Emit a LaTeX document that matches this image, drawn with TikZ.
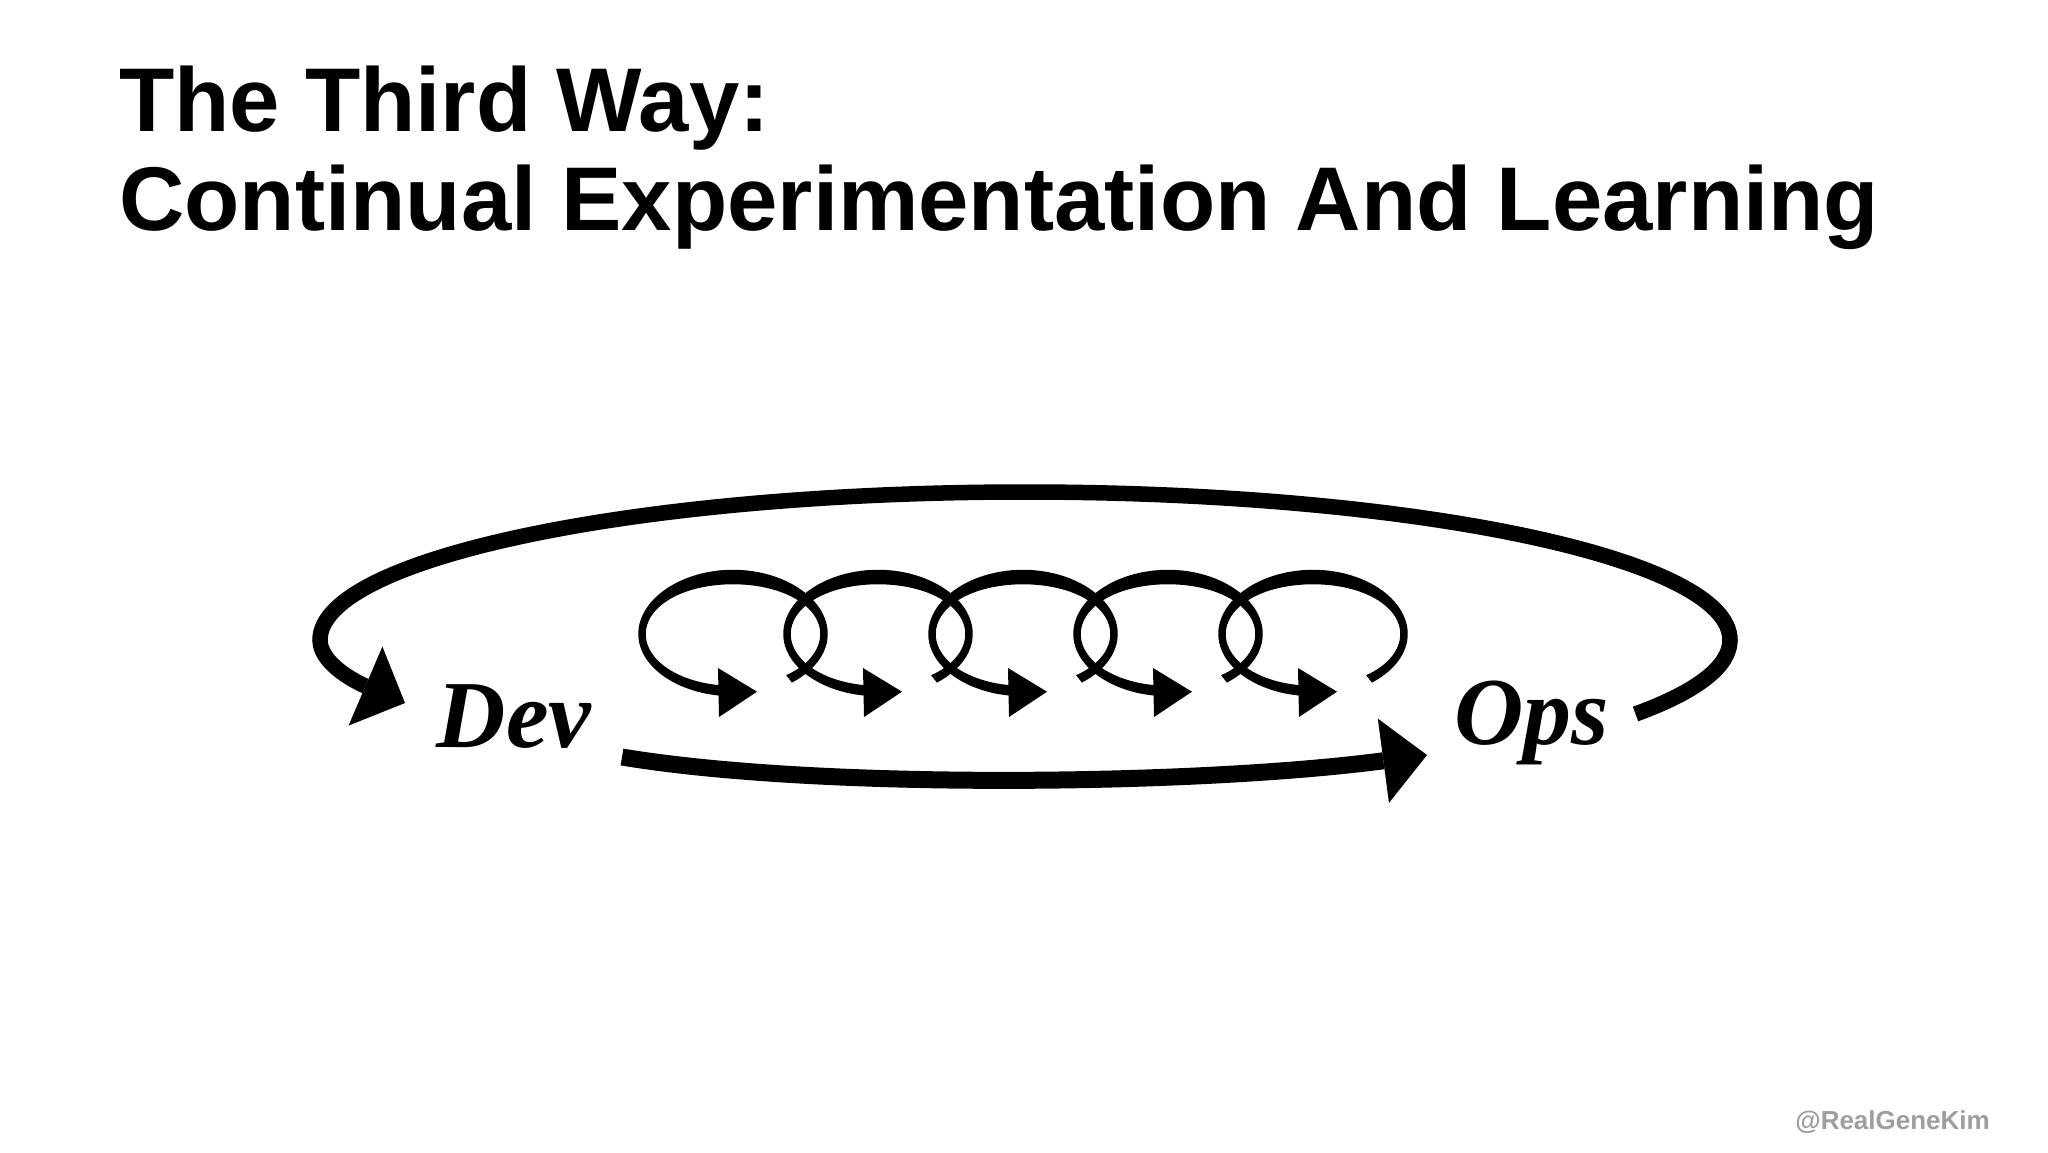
\documentclass[tikz,border=0pt]{standalone}
\usepackage{fontspec}
\setmainfont{Liberation Sans}
\newfontfamily\devfont{Liberation Serif}
\usetikzlibrary{arrows.meta}
\begin{document}
\begin{tikzpicture}[x=1pt,y=-1pt,
  titletext/.style={anchor=base west, inner sep=0pt, font=\fontsize{90.5}{100}\selectfont\bfseries},
  devops/.style={anchor=base, inner sep=0pt, font=\fontsize{96}{96}\selectfont\devfont\bfseries\itshape},
  wmtext/.style={anchor=base east, inner sep=0pt, text=black!38, font=\fontsize{26}{26}\selectfont\bfseries},
  outerarrow/.style={draw=black, line width=15.5pt, -{Triangle[length=43pt,width=86pt,line width=0pt]}},
  lowerarrow/.style={draw=black, line width=17pt, -{Triangle[length=44pt,width=85pt,line width=0pt]}},
  declare function={lw(\t)=7.5+7*max(sin(\t),0)*max(sin(\t),0)+3*max(-sin(\t),0)*max(-sin(\t),0);}
]
\useasboundingbox (0,0) rectangle (2048,1152);
\fill[white] (0,0) rectangle (2048,1152);

% title
\node[titletext] (t1) at (119,131.7) {The Third Way:};
\node[titletext] (t2) at (119,230) {Continual Experimentation And Learning};

% labels
\node[devops] (dev) at (514,747) {Dev};
\node[devops] (ops) at (1532,744) {Ops};

% connector end points
\coordinate (opsout) at (1635.5,714);
\coordinate (devin) at (405,703);
\coordinate (devout) at (622,757);
\coordinate (opsin) at (1427,755);

% outer feedback arc Ops -> Dev
\draw[outerarrow] (opsout) .. controls (1697.4,691.5) and (1730,666) .. (1730,640)
  .. controls (1730,558.3) and (1414.4,492) .. (1025,492)
  .. controls (635.6,492) and (320,558.3) .. (320,640)
  .. controls (320,668) and (370,688) .. (devin);

% lower flow Dev -> Ops
\draw[lowerarrow] (devout) .. controls (820,790) and (1200,785) .. (opsin);

% experimentation loops
\foreach \k in {0,...,4}{
  \pgfmathsetmacro{\cx}{733+145*\k}
  \fill[black] plot[domain=-52:262,samples=90,variable=\t]
      ({\cx+(91+lw(\t)/2)*cos(\t)},{634-(57+lw(\t)/2)*sin(\t)})
    -- plot[domain=262:-52,samples=90,variable=\t]
      ({\cx+(91-lw(\t)/2)*cos(\t)},{634-(57-lw(\t)/2)*sin(\t)}) -- cycle;
  \fill[black] (\cx-15,668) -- (\cx-14,717) -- (\cx+24,691.7) -- cycle;
}

% watermark
\node[wmtext] (wm) at (1990,1129) {@RealGeneKim};
\end{tikzpicture}
\end{document}
